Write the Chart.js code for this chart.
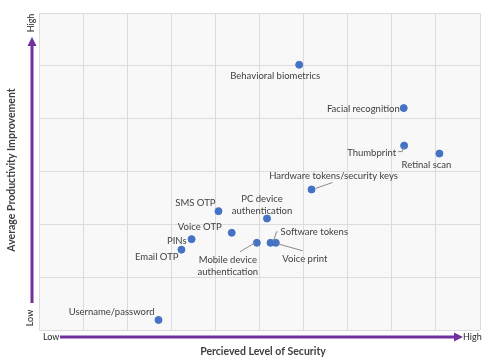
<!DOCTYPE html>
<html>
<head>
<meta charset="utf-8">
<script src="https://cdn.jsdelivr.net/npm/chart.js@4/dist/chart.umd.min.js"></script>
<style>
  html, body { margin: 0; padding: 0; background: #fff; }
  canvas { display: block; }
</style>
</head>
<body>
<canvas id="chart" width="492" height="364"></canvas>
<script>
// data (x = security 0..10, y = productivity 0..6)
const methods = [
  'Username/password', 'Email OTP', 'PINs', 'SMS OTP', 'Voice OTP',
  'Mobile device authentication', 'PC device authentication', 'Software tokens',
  'Voice print', 'Hardware tokens/security keys', 'Behavioral biometrics',
  'Facial recognition', 'Thumbprint', 'Retinal scan'
];
const security = [2.71, 3.23, 3.46, 4.07, 4.37, 4.94, 5.17, 5.25, 5.37, 6.18, 5.90, 8.27, 8.28, 9.08];
const productivity = [0.19, 1.52, 1.72, 2.25, 1.84, 1.65, 2.11, 1.65, 1.65, 2.66, 5.02, 4.20, 3.49, 3.34];
const xTitle = 'Percieved Level of Security';
const yTitle = 'Average Productivity Improvement';
const lowLabel = 'Low';
const highLabel = 'High';

// label placement relative to each dot, in px: [dx, dy, align, leader points]
const labelPos = {
  'Username/password': { dx: -4, dy: -8, align: 'right' },
  'Email OTP': { dx: -3, dy: 7, align: 'right' },
  'PINs': { dx: -5, dy: 2, align: 'right' },
  'SMS OTP': { dx: -3, dy: -8, align: 'right' },
  'Voice OTP': { dx: -10, dy: -6, align: 'right' },
  'Mobile device authentication': { dx: -29, dy: [17, 29], align: 'center', leader: [[-17, 9], [-2, 0]] },
  'PC device authentication': { dx: -5, dy: [-20, -8], align: 'center' },
  'Software tokens': { dx: 10, dy: -11, align: 'left', leader: [[7, -11], [6, -11], [3, -2]] },
  'Voice print': { dx: 29, dy: 16, align: 'center', leader: [[27, 8], [2, 1]] },
  'Hardware tokens/security keys': { dx: 22, dy: -14, align: 'center', leader: [[4, -1], [21, -7]] },
  'Behavioral biometrics': { dx: -24, dy: 11, align: 'center' },
  'Facial recognition': { dx: -4, dy: 1, align: 'right' },
  'Thumbprint': { dx: -8, dy: 7, align: 'right', leader: [[-6, 6], [-2, 6], [0, 1]] },
  'Retinal scan': { dx: -13, dy: 11, align: 'center' }
};

const purple = '#7030a0';
const textCol = '#404040';
const font = '"Lato", "Liberation Sans", sans-serif';

const points = security.map((s, i) => ({ x: s, y: productivity[i] }));

const decor = {
  id: 'decor',
  beforeDraw(chart) {
    const { ctx, chartArea: a } = chart;
    ctx.save();
    ctx.fillStyle = '#f8f8f8';
    ctx.fillRect(a.left, a.top, a.right - a.left, a.bottom - a.top);
    ctx.restore();
  },
  afterDatasetsDraw(chart) {
    const { ctx, chartArea: a } = chart;
    const meta = chart.getDatasetMeta(0);
    ctx.save();
    ctx.font = '9.5px ' + font;
    ctx.fillStyle = textCol;
    ctx.strokeStyle = '#8c8c8c';
    ctx.lineWidth = 1;
    ctx.textBaseline = 'middle';
    meta.data.forEach((pt, i) => {
      const p = labelPos[methods[i]];
      const words = methods[i];
      ctx.textAlign = p.align;
      if (Array.isArray(p.dy)) {
        const parts = words.split(' ');
        const lines = [parts.slice(0, parts.length - 1).join(' '), parts[parts.length - 1]];
        lines.forEach((l, k) => ctx.fillText(l, pt.x + p.dx, pt.y + p.dy[k]));
      } else {
        ctx.fillText(words, pt.x + p.dx, pt.y + p.dy);
      }
      if (p.leader) {
        ctx.beginPath();
        p.leader.forEach(([lx, ly], k) => {
          if (k === 0) ctx.moveTo(pt.x + lx, pt.y + ly);
          else ctx.lineTo(pt.x + lx, pt.y + ly);
        });
        ctx.stroke();
      }
    });

    // axis arrows
    ctx.strokeStyle = purple;
    ctx.fillStyle = purple;
    ctx.lineWidth = 3;
    const ax = a.left - 7;
    ctx.beginPath();
    ctx.moveTo(ax, a.bottom - 27);
    ctx.lineTo(ax, a.top + 30);
    ctx.stroke();
    ctx.beginPath();
    ctx.moveTo(ax, a.top + 24);
    ctx.lineTo(ax - 4.5, a.top + 33);
    ctx.lineTo(ax + 4.5, a.top + 33);
    ctx.closePath();
    ctx.fill();

    const ay = a.bottom + 7;
    ctx.beginPath();
    ctx.moveTo(a.left + 21, ay);
    ctx.lineTo(a.right - 24, ay);
    ctx.stroke();
    ctx.beginPath();
    ctx.moveTo(a.right - 17, ay);
    ctx.lineTo(a.right - 26, ay - 4.5);
    ctx.lineTo(a.right - 26, ay + 4.5);
    ctx.closePath();
    ctx.fill();

    // low / high markers
    ctx.fillStyle = '#262626';
    ctx.font = '9px ' + font;
    ctx.textAlign = 'left';
    ctx.fillText(lowLabel, a.left + 4, ay);
    ctx.fillText(highLabel, a.right - 17, ay);
    ctx.save();
    ctx.translate(ax - 1, a.top + 10);
    ctx.rotate(-Math.PI / 2);
    ctx.textAlign = 'center';
    ctx.fillText(highLabel, 0, 0);
    ctx.restore();
    ctx.save();
    ctx.translate(ax - 2, a.bottom - 12);
    ctx.rotate(-Math.PI / 2);
    ctx.textAlign = 'center';
    ctx.fillText(lowLabel, 0, 0);
    ctx.restore();

    // titles
    ctx.fillStyle = '#404040';
    ctx.font = 'bold 10.5px ' + font;
    ctx.textAlign = 'center';
    ctx.fillText(xTitle, 263, 352);
    ctx.save();
    ctx.translate(12, 170);
    ctx.rotate(-Math.PI / 2);
    ctx.fillText(yTitle, 0, 0);
    ctx.restore();
    ctx.restore();
  }
};

new Chart(document.getElementById('chart').getContext('2d'), {
  type: 'scatter',
  data: {
    datasets: [{
      data: points,
      backgroundColor: '#4472c4',
      borderColor: '#4472c4',
      pointRadius: 3.5,
      pointHoverRadius: 3.5
    }]
  },
  options: {
    responsive: false,
    animation: false,
    layout: { padding: { left: 39, right: 12, top: 13, bottom: 34 } },
    scales: {
      x: {
        min: 0, max: 10,
        ticks: { display: false, stepSize: 1 },
        grid: { color: '#dcdcdc', drawTicks: false },
        border: { display: false }
      },
      y: {
        min: 0, max: 6,
        ticks: { display: false, stepSize: 1 },
        grid: { color: '#dcdcdc', drawTicks: false },
        border: { display: false }
      }
    },
    plugins: {
      legend: { display: false },
      tooltip: { enabled: false }
    }
  },
  plugins: [decor]
});
</script>
</body>
</html>
